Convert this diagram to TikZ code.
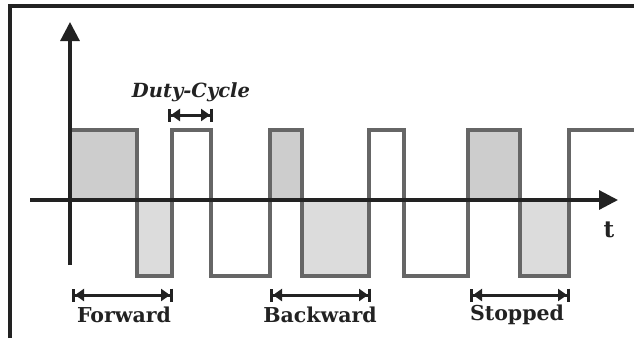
\documentclass[tikz,border=0pt]{standalone}
\usepackage{fontspec}
\setmainfont{DejaVu Serif}
\usetikzlibrary{arrows.meta}
\definecolor{wavegray}{HTML}{666666}
\definecolor{inkblack}{HTML}{222222}
\definecolor{highfill}{HTML}{CDCDCD}
\definecolor{lowfill}{HTML}{DCDCDC}
\begin{document}
\begin{tikzpicture}[x=1pt,y=-1pt,
  frame/.style={draw=inkblack,line width=3.4pt},
  axisline/.style={draw=inkblack,line width=3.2pt,-{Triangle[length=19pt,width=19pt]}},
  wave/.style={draw=wavegray,line width=3.2pt,line join=miter},
  hfill/.style={fill=highfill},
  lfill/.style={fill=lowfill},
  dim/.style={draw=inkblack,line width=3pt,{Bar[width=13pt,line width=3pt]Triangle[length=9pt,width=12pt]}-{Triangle[length=9pt,width=12pt]Bar[width=13pt,line width=3pt]}},
  lbl/.style={font=\bfseries\fontsize{20.5}{22}\selectfont,text=inkblack,inner sep=0pt}
]
\useasboundingbox (0,0) rectangle (634,338);
% shaded areas
\fill[hfill] (70,130) rectangle (137,200);
\fill[lfill] (137,200) rectangle (172,276);
\fill[hfill] (270,130) rectangle (302,200);
\fill[lfill] (302,200) rectangle (369,276);
\fill[hfill] (468,130) rectangle (520,200);
\fill[lfill] (520,200) rectangle (569,276);
% waveform
\draw[wave] (70,130) -- (137,130) -- (137,276) -- (172,276) -- (172,130) -- (211,130) -- (211,276) -- (270,276) -- (270,130) -- (302,130) -- (302,276) -- (369,276) -- (369,130) -- (404,130) -- (404,276) -- (468,276) -- (468,130) -- (520,130) -- (520,276) -- (569,276) -- (569,130) -- (634,130);
% frame
\draw[frame] (10,338) -- (10,6) -- (634,6);
% axes
\coordinate (xs) at (30,200);
\coordinate (xe) at (618,200);
\coordinate (ys) at (70,265);
\coordinate (ye) at (70,22);
\draw[axisline] (xs) -- (xe);
\draw[axisline] (ys) -- (ye);
\node[lbl,font=\bfseries\fontsize{23}{24}\selectfont] (t) at (609,230) {t};
% duty cycle
\coordinate (d1) at (168,115);
\coordinate (d2) at (213,115);
\draw[dim] (d1) -- (d2);
\node[lbl,font=\bfseries\itshape\fontsize{19.5}{21}\selectfont] (duty) at (191,92) {Duty-Cycle};
% ranges
\coordinate (f1) at (72,295);
\coordinate (f2) at (173,295);
\coordinate (b1) at (270,295);
\coordinate (b2) at (371,295);
\coordinate (s1) at (470,295);
\coordinate (s2) at (570,295);
\draw[dim] (f1) -- (f2);
\draw[dim] (b1) -- (b2);
\draw[dim] (s1) -- (s2);
\node[lbl] (fw) at (124,315) {Forward};
\node[lbl] (bw) at (320,315) {Backward};
\node[lbl] (st) at (517,315) {Stopped};
\end{tikzpicture}
\end{document}
